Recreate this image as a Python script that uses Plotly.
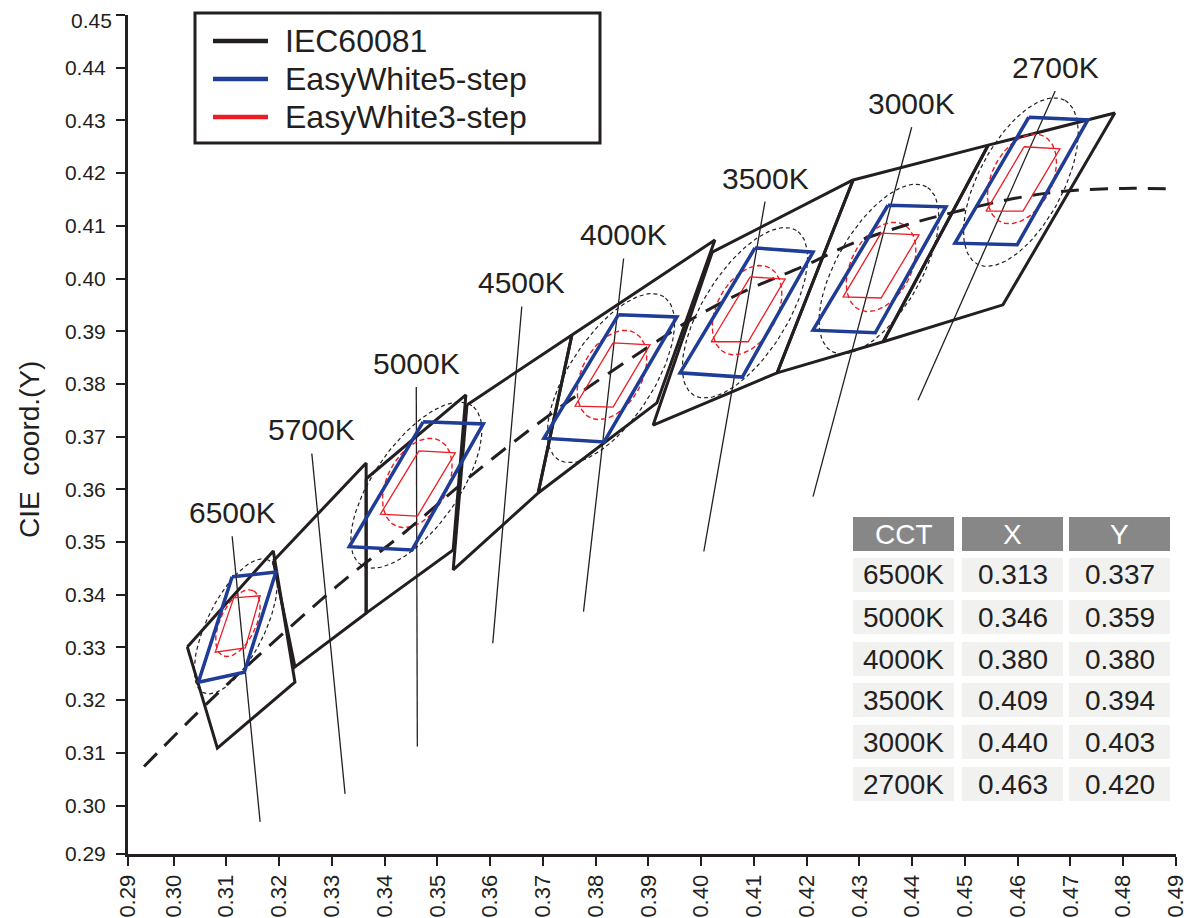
import numpy as np
import plotly.graph_objects as go

FONT = "Liberation Sans, Arial, Helvetica, sans-serif"
INK = "#231f20"
BLUE = "#1f3c96"
RED = "#ed1c24"

# ---------------- data ----------------
iec_cct = ["6500K", "5700K", "5000K", "4500K", "4000K", "3500K", "3000K", "2700K"]
iec_x = [
    [0.3026, 0.3189, 0.3230, 0.3083],
    [0.3189, 0.3365, 0.3365, 0.3230],
    [0.3365, 0.3554, 0.3530, 0.3365],
    [0.3556, 0.3755, 0.3691, 0.3530],
    [0.3755, 0.4026, 0.3916, 0.3691],
    [0.4021, 0.4288, 0.4144, 0.3909],
    [0.4288, 0.4544, 0.4345, 0.4144],
    [0.4544, 0.4784, 0.4572, 0.4345],
]
iec_y = [
    [0.3301, 0.3483, 0.3234, 0.3109],
    [0.3464, 0.3650, 0.3365, 0.3263],
    [0.3620, 0.3779, 0.3485, 0.3365],
    [0.3760, 0.3893, 0.3593, 0.3447],
    [0.3893, 0.4073, 0.3764, 0.3593],
    [0.4050, 0.4187, 0.3821, 0.3722],
    [0.4187, 0.4253, 0.3880, 0.3821],
    [0.4253, 0.4314, 0.3950, 0.3880],
]

ew_cct = ["6500K", "5000K", "4000K", "3500K", "3000K", "2700K"]
step5_x = [
    [0.3111, 0.3194, 0.3134, 0.3047],
    [0.3473, 0.3587, 0.3452, 0.3333],
    [0.3843, 0.3954, 0.3816, 0.3702],
    [0.4102, 0.4212, 0.4078, 0.3960],
    [0.4354, 0.4464, 0.4330, 0.4212],
    [0.4621, 0.4733, 0.4599, 0.4481],
]
step5_y = [
    [0.3434, 0.3443, 0.3253, 0.3234],
    [0.3728, 0.3724, 0.3485, 0.3491],
    [0.3931, 0.3927, 0.3690, 0.3697],
    [0.4058, 0.4050, 0.3813, 0.3821],
    [0.4139, 0.4136, 0.3897, 0.3902],
    [0.4306, 0.4301, 0.4064, 0.4067],
]
step3_x = [
    [0.3114, 0.3164, 0.3136, 0.3079],
    [0.3465, 0.3534, 0.3462, 0.3392],
    [0.3833, 0.3903, 0.3833, 0.3761],
    [0.4093, 0.4159, 0.4089, 0.4019],
    [0.4341, 0.4413, 0.4341, 0.4269],
    [0.4612, 0.4680, 0.4610, 0.4540],
]
step3_y = [
    [0.3394, 0.3398, 0.3299, 0.3291],
    [0.3673, 0.3669, 0.3549, 0.3553],
    [0.3878, 0.3874, 0.3756, 0.3758],
    [0.4003, 0.3999, 0.3880, 0.3880],
    [0.4086, 0.4083, 0.3963, 0.3965],
    [0.4250, 0.4246, 0.4128, 0.4128],
]

# MacAdam-type ellipses (center, semi axes, tilt in degrees)
mac5_cx = [0.3118, 0.3460, 0.3829, 0.4083, 0.4337, 0.4606]
mac5_cy = [0.3340, 0.3608, 0.3811, 0.3935, 0.4018, 0.4183]
mac5_a = [0.0140, 0.0184, 0.0184, 0.0184, 0.0180, 0.0176]
mac5_b = [0.0055, 0.0080, 0.0080, 0.0080, 0.0080, 0.0080]
mac5_ang = [64, 55, 57, 58, 60, 62]

mac3_cx = [0.3122, 0.3462, 0.3831, 0.4087, 0.4341, 0.4608]
mac3_cy = [0.3346, 0.3612, 0.3817, 0.3940, 0.4022, 0.4189]
mac3_a = [0.0068, 0.0091, 0.0091, 0.0091, 0.0091, 0.0091]
mac3_b = [0.0034, 0.0057, 0.0057, 0.0057, 0.0057, 0.0057]
mac3_ang = [65, 62, 62, 62, 62, 63]

# Planckian locus
planck_x = [0.2944, 0.3070, 0.3218, 0.3331, 0.3440, 0.3562, 0.3683, 0.3788, 0.3901, 0.3979,
            0.4074, 0.4200, 0.4288, 0.4390, 0.4472, 0.4579, 0.4655, 0.4705, 0.4800, 0.4900]
planck_y = [0.3074, 0.3200, 0.3336, 0.3434, 0.3520, 0.3624, 0.3719, 0.3795, 0.3871, 0.3921,
            0.3972, 0.4026, 0.4067, 0.4102, 0.4124, 0.4149, 0.4162, 0.4167, 0.4171, 0.4170]

# isotherm (CCT) lines
iso_top_x = [0.3111, 0.3262, 0.3460, 0.3660, 0.3853, 0.4121, 0.4399, 0.4671]
iso_top_y = [0.3511, 0.3668, 0.3794, 0.3947, 0.4038, 0.4146, 0.4287, 0.4356]
iso_bot_x = [0.3164, 0.3325, 0.3462, 0.3605, 0.3777, 0.4005, 0.4212, 0.4411]
iso_bot_y = [0.2969, 0.3022, 0.3112, 0.3308, 0.3368, 0.3482, 0.3586, 0.3769]

# table
tbl_header = ["CCT", "X", "Y"]
tbl_cct = ["6500K", "5000K", "4000K", "3500K", "3000K", "2700K"]
tbl_x = ["0.313", "0.346", "0.380", "0.409", "0.440", "0.463"]
tbl_y = ["0.337", "0.359", "0.380", "0.394", "0.403", "0.420"]

legend_names = ["IEC60081", "EasyWhite5-step", "EasyWhite3-step"]

x_tick_text = ["0.29", "0.30", "0.31", "0.32", "0.33", "0.34", "0.35", "0.36", "0.37", "0.38", "0.39",
               "0.40", "0.41", "0.42", "0.43", "0.44", "0.45", "0.46", "0.47", "0.48", "0.49"]
y_tick_text = ["0.29", "0.30", "0.31", "0.32", "0.33", "0.34", "0.35", "0.36", "0.37", "0.38", "0.39",
               "0.40", "0.41", "0.42", "0.43", "0.44", "0.45"]

# axis ranges (origin of the drawing sits slightly inside 0.29)
X_RANGE = [0.29136, 0.49]
Y_RANGE = [0.2908, 0.45]

# ---------------- helpers ----------------
def polys(xs, ys):
    px, py = [], []
    for qx, qy in zip(xs, ys):
        px += list(qx) + [qx[0], None]
        py += list(qy) + [qy[0], None]
    return px, py


def ellipses(cx, cy, a, b, ang):
    t = np.linspace(0, 2 * np.pi, 121)
    px, py = [], []
    for x0, y0, aa, bb, th in zip(cx, cy, a, b, ang):
        r = np.radians(th)
        ex = x0 + aa * np.cos(r) * np.cos(t) - bb * np.sin(r) * np.sin(t)
        ey = y0 + aa * np.sin(r) * np.cos(t) + bb * np.cos(r) * np.sin(t)
        px += list(ex) + [None]
        py += list(ey) + [None]
    return px, py


fig = go.Figure()

# isotherms
ix, iy = [], []
for a, b, c, d in zip(iso_top_x, iso_top_y, iso_bot_x, iso_bot_y):
    ix += [a, c, None]
    iy += [b, d, None]
fig.add_trace(go.Scatter(x=ix, y=iy, mode="lines", line=dict(color=INK, width=1.3),
                         hoverinfo="skip", showlegend=False))

# IEC quadrangles
qx, qy = polys(iec_x, iec_y)
fig.add_trace(go.Scatter(x=qx, y=qy, mode="lines", name=legend_names[0],
                         line=dict(color=INK, width=3), showlegend=False))

# ellipses
ex, ey = ellipses(mac5_cx, mac5_cy, mac5_a, mac5_b, mac5_ang)
fig.add_trace(go.Scatter(x=ex, y=ey, mode="lines", line=dict(color=INK, width=1.2, dash="4px,3px"),
                         hoverinfo="skip", showlegend=False))
ex, ey = ellipses(mac3_cx, mac3_cy, mac3_a, mac3_b, mac3_ang)
fig.add_trace(go.Scatter(x=ex, y=ey, mode="lines", line=dict(color=RED, width=1.4, dash="5px,3px"),
                         hoverinfo="skip", showlegend=False))

# Planckian locus
fig.add_trace(go.Scatter(x=planck_x, y=planck_y, mode="lines", line=dict(color=INK, width=3, dash="18px,11px"),
                         line_shape="spline", hoverinfo="skip", showlegend=False))

# EasyWhite boxes
qx, qy = polys(step5_x, step5_y)
fig.add_trace(go.Scatter(x=qx, y=qy, mode="lines", name=legend_names[1],
                         line=dict(color=BLUE, width=3.5), showlegend=False))
qx, qy = polys(step3_x, step3_y)
fig.add_trace(go.Scatter(x=qx, y=qy, mode="lines", name=legend_names[2],
                         line=dict(color=RED, width=1.3), showlegend=False))

annotations = []
shapes = []

# CCT labels
for name, x, y in zip(iec_cct, iso_top_x, iso_top_y):
    annotations.append(dict(x=x, y=y, xref="x", yref="y", text=name, showarrow=False,
                            yanchor="bottom", xanchor="center", yshift=5,
                            font=dict(family=FONT, size=30, color=INK)))

# page layout: the page body adds an 8 px offset, so the figure is sized to fit the window
OFF = 8
W, H = 1192 - OFF, 918 - OFF
L, R, T, B = 128 - OFF, 16, 15 - OFF, 64
PW, PH = W - L - R, H - T - B


def pxx(p):
    # window pixel -> paper fraction
    return (p - OFF - L) / PW


def pyy(p):
    return (H - B - (p - OFF)) / PH


# legend (drawn manually)
shapes.append(dict(type="rect", xref="paper", yref="paper", x0=pxx(195), x1=pxx(600), y0=pyy(143), y1=pyy(13),
                   line=dict(color=INK, width=3), fillcolor="white", layer="above"))
leg_colors = [INK, BLUE, RED]
leg_y = [41, 79, 117]
for name, col, ly in zip(legend_names, leg_colors, leg_y):
    shapes.append(dict(type="line", xref="paper", yref="paper", x0=pxx(213), x1=pxx(268), y0=pyy(ly), y1=pyy(ly),
                       line=dict(color=col, width=4.5), layer="above"))
    annotations.append(dict(x=pxx(283), y=pyy(ly), xref="paper", yref="paper", text=name, showarrow=False,
                            xanchor="left", yanchor="middle", font=dict(family=FONT, size=32, color=INK)))

# table
col_left = [853, 962, 1069]
col_w = 101
cell_h = 34
head_top = 517
row_tops = [558, 600, 642, 683, 725, 767]
for j, htxt in enumerate(tbl_header):
    x0 = col_left[j]
    shapes.append(dict(type="rect", xref="paper", yref="paper", x0=pxx(x0), x1=pxx(x0 + col_w),
                       y0=pyy(head_top + cell_h), y1=pyy(head_top), line=dict(width=0), fillcolor="#878787",
                       layer="above"))
    annotations.append(dict(x=pxx(x0 + col_w / 2), y=pyy(head_top + cell_h / 2), xref="paper", yref="paper",
                            text=htxt, showarrow=False, xanchor="center", yanchor="middle",
                            font=dict(family=FONT, size=28, color="white")))
for i, (c, xv, yv) in enumerate(zip(tbl_cct, tbl_x, tbl_y)):
    top = row_tops[i]
    for j, txt in enumerate([c, xv, yv]):
        x0 = col_left[j]
        shapes.append(dict(type="rect", xref="paper", yref="paper", x0=pxx(x0), x1=pxx(x0 + col_w),
                           y0=pyy(top + cell_h), y1=pyy(top), line=dict(width=0), fillcolor="#f1f1ef",
                           layer="above"))
        annotations.append(dict(x=pxx(x0 + col_w / 2), y=pyy(top + cell_h / 2), xref="paper", yref="paper",
                                text=txt, showarrow=False, xanchor="center", yanchor="middle",
                                font=dict(family=FONT, size=28, color=INK)))

# y-axis title
annotations.append(dict(x=pxx(30), y=pyy(450), xref="paper", yref="paper", text="CIE  coord.(Y)",
                        showarrow=False, textangle=-90, xanchor="center", yanchor="middle",
                        font=dict(family=FONT, size=28, color=INK)))

x_tick_vals = [float(t) for t in x_tick_text]
x_tick_vals[0] = X_RANGE[0]
y_tick_vals = [float(t) for t in y_tick_text]
y_tick_vals[0] = Y_RANGE[0]
# the topmost y label sits at the very top edge of the page: draw it as an annotation kept inside the page
y_tick_shown = list(y_tick_text)
y_tick_shown[-1] = ""
annotations.append(dict(x=pxx(113), y=pyy(OFF), xref="paper", yref="paper", text=y_tick_text[-1],
                        showarrow=False, xanchor="right", yanchor="top", borderpad=0,
                        font=dict(family=FONT, size=21, color=INK)))

fig.update_layout(
    width=W, height=H,
    margin=dict(l=L, r=R, t=T, b=B, autoexpand=False),
    paper_bgcolor="white", plot_bgcolor="white",
    showlegend=False,
    font=dict(family=FONT, color=INK),
    shapes=shapes, annotations=annotations,
    xaxis=dict(range=X_RANGE, tickvals=x_tick_vals, ticktext=x_tick_text, tickangle=-90,
               ticks="outside", ticklen=9, tickwidth=2, tickcolor=INK, automargin=False,
               showline=True, linewidth=3, linecolor=INK, showgrid=False, zeroline=False,
               ticklabeloverflow="allow",
               tickfont=dict(family=FONT, size=22, color=INK)),
    yaxis=dict(range=Y_RANGE, tickvals=y_tick_vals, ticktext=y_tick_shown, automargin=False,
               ticks="outside", ticklen=9, tickwidth=2, tickcolor=INK,
               showline=True, linewidth=3, linecolor=INK, showgrid=False, zeroline=False,
               ticklabeloverflow="allow",
               tickfont=dict(family=FONT, size=21, color=INK), ticklabelstandoff=6),
)

fig.write_html("out.html")
